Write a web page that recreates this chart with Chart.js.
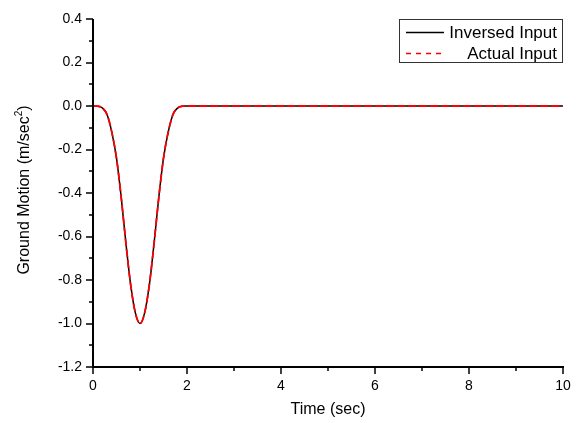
<!DOCTYPE html>
<html>
<head>
<meta charset="utf-8">
<script src="https://cdn.jsdelivr.net/npm/chart.js@4"></script>
<style>
html,body{margin:0;padding:0;background:#fff;}
canvas{display:block;}
</style>
</head>
<body>
<canvas id="c" width="577" height="423"></canvas>
<script>
// Time (sec)
const timeValues = [0, 0.1, 0.2, 0.3, 0.4, 0.5, 0.6, 0.7, 0.8, 0.9, 1.0, 1.1, 1.2, 1.3, 1.4, 1.5, 1.6, 1.7, 1.8, 1.9, 2.0, 10];
// Ground motion (m/sec^2)
const inversedInput = [0, -0.001, -0.009, -0.04, -0.12, -0.24, -0.42, -0.63, -0.82, -0.95, -1.0, -0.95, -0.82, -0.63, -0.42, -0.24, -0.12, -0.04, -0.009, -0.001, 0, 0];
const actualInput   = [0, -0.001, -0.009, -0.04, -0.12, -0.24, -0.42, -0.63, -0.82, -0.95, -1.0, -0.95, -0.82, -0.63, -0.42, -0.24, -0.12, -0.04, -0.009, -0.001, 0, 0];
const seriesNames = ['Inversed Input', 'Actual Input'];
const xMajorTicks = [0, 2, 4, 6, 8, 10];
const xMinorTicks = [1, 3, 5, 7, 9];
const yMajorTicks = [-1.2, -1.0, -0.8, -0.6, -0.4, -0.2, 0.0, 0.2, 0.4];
const yMinorTicks = [-1.1, -0.9, -0.7, -0.5, -0.3, -0.1, 0.1, 0.3];
const xTitle = 'Time (sec)';
const yTitleMain = 'Ground Motion (m/sec';
const yTitleSup = '2';
const yTitleEnd = ')';

const FONT = '"Liberation Sans", Arial, Helvetica, sans-serif';

const toPoints = (ys) => timeValues.map((t, i) => ({x: t, y: ys[i]}));

const decorPlugin = {
  id: 'decor',
  afterDraw(chart) {
    const ctx = chart.ctx;
    const xs = chart.scales.x, ys = chart.scales.y;
    const area = chart.chartArea;
    ctx.save();
    ctx.strokeStyle = '#000';
    ctx.lineWidth = 2;
    ctx.lineCap = 'butt';
    // axis lines
    ctx.beginPath();
    ctx.moveTo(area.left, area.top);
    ctx.lineTo(area.left, area.bottom + 1);
    ctx.moveTo(area.left - 1, area.bottom);
    ctx.lineTo(area.right + 1, area.bottom);
    ctx.stroke();
    // ticks
    ctx.lineWidth = 1.5;
    ctx.beginPath();
    yMajorTicks.forEach(v => { const p = Math.round(ys.getPixelForValue(v)); ctx.moveTo(area.left - 7, p); ctx.lineTo(area.left, p); });
    yMinorTicks.forEach(v => { const p = Math.round(ys.getPixelForValue(v)); ctx.moveTo(area.left - 4, p); ctx.lineTo(area.left, p); });
    xMajorTicks.forEach(v => { const p = Math.round(xs.getPixelForValue(v)); ctx.moveTo(p, area.bottom); ctx.lineTo(p, area.bottom + 7); });
    xMinorTicks.forEach(v => { const p = Math.round(xs.getPixelForValue(v)); ctx.moveTo(p, area.bottom); ctx.lineTo(p, area.bottom + 4); });
    ctx.stroke();

    // axis titles
    ctx.fillStyle = '#000';
    ctx.font = '16px ' + FONT;
    ctx.textAlign = 'center';
    ctx.textBaseline = 'middle';
    ctx.fillText(xTitle, (area.left + area.right) / 2, 410);

    ctx.save();
    ctx.translate(25, 190);
    ctx.rotate(-Math.PI / 2);
    ctx.textAlign = 'left';
    ctx.font = '16px ' + FONT;
    const w1 = ctx.measureText(yTitleMain).width;
    const w3 = ctx.measureText(yTitleEnd).width;
    ctx.font = '10px ' + FONT;
    const w2 = ctx.measureText(yTitleSup).width;
    let x0 = -(w1 + w2 + w3) / 2;
    ctx.font = '16px ' + FONT;
    ctx.fillText(yTitleMain, x0, 0);
    ctx.font = '10px ' + FONT;
    ctx.fillText(yTitleSup, x0 + w1, -6);
    ctx.font = '16px ' + FONT;
    ctx.fillText(yTitleEnd, x0 + w1 + w2, 0);
    ctx.restore();

    // legend
    ctx.lineWidth = 1;
    ctx.strokeStyle = '#333';
    ctx.strokeRect(399.5, 19.5, 163, 43);
    const rows = [32, 53];
    chart.data.datasets.forEach((ds, i) => {
      ctx.beginPath();
      ctx.strokeStyle = ds.borderColor;
      ctx.lineWidth = 1.5;
      ctx.setLineDash(i === 1 ? [5, 5] : []);
      ctx.moveTo(406, rows[i] + 0.5);
      ctx.lineTo(444, rows[i] + 0.5);
      ctx.stroke();
      ctx.setLineDash([]);
      ctx.fillStyle = '#000';
      ctx.font = '17px ' + FONT;
      ctx.textAlign = 'right';
      ctx.textBaseline = 'middle';
      ctx.fillText(ds.label, 557, rows[i] + 1);
    });
    ctx.restore();
  }
};

new Chart(document.getElementById('c'), {
  type: 'line',
  data: {
    datasets: [
      { label: seriesNames[0], order: 2, data: toPoints(inversedInput), borderColor: '#000000', borderWidth: 1.5, pointRadius: 0, fill: false, cubicInterpolationMode: 'monotone' },
      { label: seriesNames[1], order: 1, data: toPoints(actualInput), borderColor: '#ff0000', borderWidth: 1.8, borderDash: [8, 3], pointRadius: 0, fill: false, cubicInterpolationMode: 'monotone' }
    ]
  },
  options: {
    responsive: false,
    animation: false,
    devicePixelRatio: 1,
    layout: { padding: { left: 0, top: 19, right: 14, bottom: 0 } },
    plugins: { legend: { display: false }, tooltip: { enabled: false } },
    scales: {
      x: {
        type: 'linear', min: 0, max: 10,
        afterBuildTicks: (s) => { s.ticks = xMajorTicks.map(v => ({value: v})); },
        afterFit: (s) => { s.height = 56; s.paddingRight = 0; s.paddingLeft = 0; },
        grid: { display: false, drawTicks: false },
        border: { display: false },
        ticks: { padding: 11, color: '#000', font: { family: FONT, size: 14 }, maxRotation: 0, callback: (v) => String(v) }
      },
      y: {
        type: 'linear', min: -1.2, max: 0.4,
        afterBuildTicks: (s) => { s.ticks = yMajorTicks.map(v => ({value: v})); },
        afterFit: (s) => { s.width = 93; s.paddingTop = 0; s.paddingBottom = 0; },
        grid: { display: false, drawTicks: false },
        border: { display: false },
        ticks: { padding: 11, color: '#000', font: { family: FONT, size: 14 }, callback: (v) => Number(v).toFixed(1) }
      }
    }
  },
  plugins: [decorPlugin]
});
</script>
</body>
</html>
